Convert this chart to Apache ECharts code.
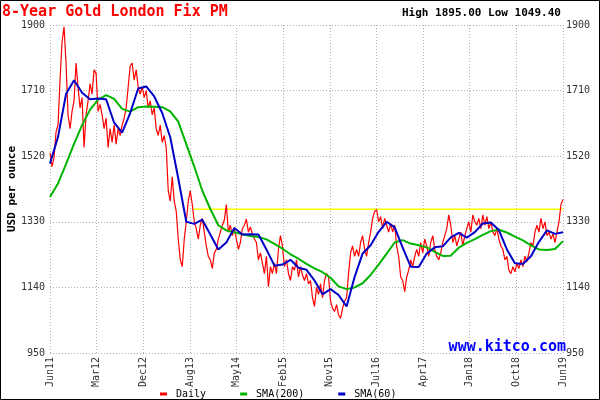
<!DOCTYPE html>
<html><head><meta charset="utf-8">
<script src="https://cdn.jsdelivr.net/npm/echarts/dist/echarts.min.js"></script>
<style>html,body{margin:0;padding:0;background:#fff}#c{width:600px;height:400px}</style>
</head><body><div id="c"></div>
<script>
// ---- data ----
const dateLabels = ['Jun11','Mar12','Dec12','Aug13','May14','Feb15','Nov15','Jul16','Apr17','Jan18','Oct18','Jun19'];
const yMin = 950, yMax = 1900, yStep = 190;
const titleText = '8-Year Gold London Fix PM';
const statsText = 'High 1895.00 Low 1049.40';
const seriesNames = ['Daily','SMA(200)','SMA(60)'];
// daily price, one sample per time step (0..256)
const daily = [
1530,1490,1515,1590,1610,1740,1850,1895,1790,1640,
1600,1650,1680,1790,1720,1660,1690,1545,1640,1680,
1730,1700,1770,1760,1650,1670,1640,1600,1630,1545,
1600,1560,1610,1555,1600,1580,1610,1630,1660,1720,
1780,1790,1740,1770,1720,1700,1720,1690,1710,1660,
1680,1640,1660,1600,1580,1610,1560,1580,1545,1420,
1390,1460,1390,1360,1280,1220,1200,1280,1330,1390,
1420,1380,1330,1310,1280,1320,1340,1300,1260,1230,
1220,1195,1240,1250,1280,1300,1320,1335,1380,1300,
1320,1290,1310,1280,1250,1270,1310,1320,1338,1300,
1315,1295,1280,1270,1220,1240,1210,1180,1230,1142,
1200,1180,1210,1180,1250,1290,1260,1200,1220,1180,
1160,1200,1190,1220,1170,1200,1175,1160,1180,1150,
1160,1110,1085,1140,1120,1150,1110,1160,1180,1170,
1100,1080,1070,1090,1060,1050,1080,1100,1110,1180,
1240,1260,1230,1250,1230,1270,1290,1250,1230,1270,
1300,1340,1360,1365,1330,1345,1310,1340,1320,1300,
1325,1300,1320,1260,1230,1170,1160,1128,1170,1190,
1220,1200,1230,1250,1230,1270,1240,1280,1260,1230,
1270,1290,1250,1230,1220,1240,1270,1290,1310,1350,
1320,1270,1290,1260,1280,1300,1260,1290,1310,1330,
1300,1350,1330,1320,1340,1310,1350,1320,1345,1310,
1330,1300,1290,1310,1280,1260,1250,1220,1230,1190,
1180,1200,1185,1210,1195,1220,1200,1230,1215,1240,
1270,1260,1300,1320,1300,1340,1310,1330,1290,1300,
1280,1295,1270,1300,1330,1380,1395
];
// moving averages, one sample every 4 time steps
const smaStep = 4;
const sma200 = [1402,1441,1497,1556,1610,1655,1684,1697,1686,1657,1649,1662,1664,1663,1662,1650,1620,1555,1490,1420,1367,1320,1305,1300,1294,1289,1286,1279,1266,1252,1236,1223,1208,1195,1184,1168,1143,1135,1140,1152,1176,1206,1238,1270,1277,1267,1262,1256,1243,1231,1232,1255,1269,1280,1292,1303,1307,1299,1287,1276,1262,1250,1248,1251,1274];
const sma60 = [1499,1576,1700,1740,1704,1685,1687,1685,1617,1588,1645,1716,1722,1693,1645,1575,1456,1330,1324,1336,1293,1250,1270,1312,1293,1294,1293,1250,1203,1206,1220,1197,1191,1160,1120,1135,1118,1085,1170,1238,1262,1301,1330,1314,1255,1200,1199,1238,1256,1259,1285,1298,1284,1300,1325,1328,1306,1250,1210,1208,1230,1272,1305,1295,1300];
// resistance level (yellow)
const resistanceStart = 71.5, resistanceLevel = 1366;

// ---- chart ----
const mono = 'DejaVu Sans Mono';
const gridCol = '#b3abb5';
const lastStep = daily.length - 1;
const plain = v => String(v);
const chart = echarts.init(document.getElementById('c'), null, {renderer: 'canvas'});
chart.setOption({
  animation: false,
  backgroundColor: '#fff',
  title: [
    {text: titleText, left: 2, top: 5, padding: 0, textStyle: {fontFamily: mono, fontSize: 15, fontWeight: 'bold', color: '#ff0000'}},
    {text: statsText, left: 402, top: 8, padding: 0, textStyle: {fontFamily: mono, fontSize: 11, fontWeight: 'bold', color: '#000'}},
    {text: 'www.kitco.com', right: 34, top: 340, padding: 0, textStyle: {fontFamily: mono, fontSize: 15, fontWeight: 'bold', color: '#0000ff'}}
  ],
  legend: {
    data: seriesNames, left: 155, top: 384, icon: 'rect', itemWidth: 7, itemHeight: 3, itemGap: 34,
    textStyle: {fontFamily: mono, fontSize: 10, color: '#000', padding: [0,0,0,4]}
  },
  grid: {left: 50, top: 25, width: 513, height: 328, containLabel: false, outerBoundsMode: 'none'},
  xAxis: [
    {type: 'value', min: 0, max: lastStep, show: false},
    {type: 'category', position: 'bottom', data: dateLabels, boundaryGap: false,
     axisLine: {show: false}, axisTick: {show: false},
     axisLabel: {rotate: 90, margin: 4, interval: 0, fontFamily: mono, fontSize: 10, color: '#333'},
     splitLine: {show: true, lineStyle: {color: gridCol, type: [1,2], width: 1}}}
  ],
  yAxis: [
    {type: 'value', position: 'left', min: yMin, max: yMax, interval: yStep,
     name: 'USD per ounce', nameLocation: 'middle', nameGap: 32, nameMoveOverlap: false,
     nameTextStyle: {fontFamily: mono, fontSize: 11, fontWeight: 'bold', color: '#000'},
     axisLine: {show: false}, axisTick: {show: false},
     axisLabel: {margin: 5, fontFamily: mono, fontSize: 10, color: '#333', formatter: plain},
     splitLine: {show: true, lineStyle: {color: gridCol, type: [1,2], width: 1}}},
    {type: 'value', position: 'right', min: yMin, max: yMax, interval: yStep,
     axisLine: {show: false}, axisTick: {show: false},
     axisLabel: {margin: 3, fontFamily: mono, fontSize: 10, color: '#333', formatter: plain},
     splitLine: {show: false}}
  ],
  series: [
    {name: 'level', type: 'line', xAxisIndex: 0, yAxisIndex: 0, symbol: 'none', z: 1,
     data: [[resistanceStart, resistanceLevel], [lastStep, resistanceLevel]],
     lineStyle: {color: '#ffff00', width: 1.5}},
    {name: seriesNames[0], type: 'line', xAxisIndex: 0, yAxisIndex: 0, symbol: 'none', z: 2,
     data: daily.map((v, i) => [i, v]), itemStyle: {color: '#ff0000'},
     lineStyle: {color: '#ff0000', width: 1.2}},
    {name: seriesNames[1], type: 'line', xAxisIndex: 0, yAxisIndex: 0, symbol: 'none', z: 3,
     data: sma200.map((v, i) => [i * smaStep, v]), itemStyle: {color: '#00b400'},
     lineStyle: {color: '#00b400', width: 2}},
    {name: seriesNames[2], type: 'line', xAxisIndex: 0, yAxisIndex: 0, symbol: 'none', z: 4,
     data: sma60.map((v, i) => [i * smaStep, v]), itemStyle: {color: '#0000c8'},
     lineStyle: {color: '#0000c8', width: 2}}
  ],
  graphic: [{type: 'rect', silent: true, z: 100,
    shape: {x: 0.5, y: 0.5, width: 599, height: 399},
    style: {fill: null, stroke: '#000', lineWidth: 1}}]
});
</script></body></html>
